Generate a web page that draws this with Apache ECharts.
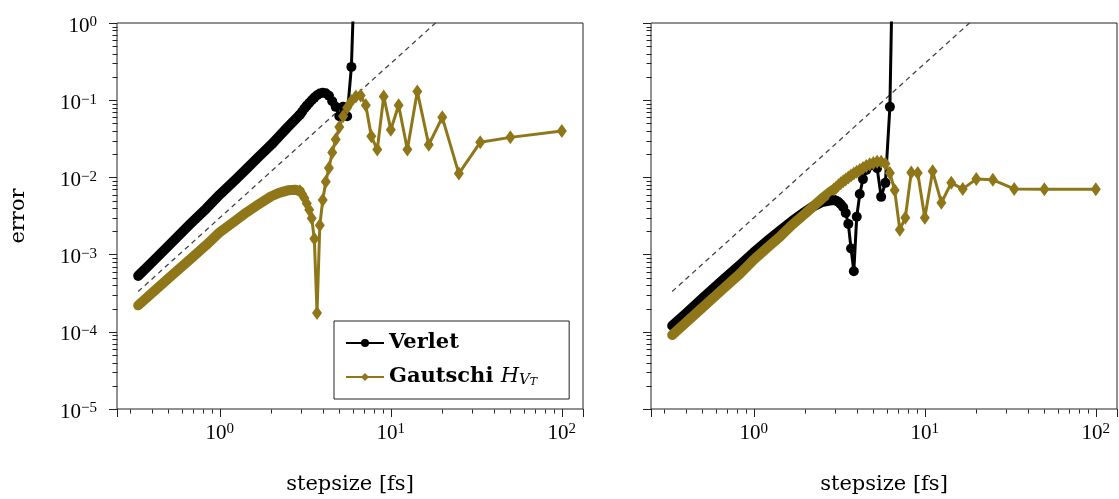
<!DOCTYPE html>
<html>
<head>
<meta charset="utf-8">
<script src="https://cdn.jsdelivr.net/npm/echarts@6.0.0/dist/echarts.min.js"></script>
<style>
  html, body { margin: 0; padding: 0; background: #fff; }
  #chart { width: 1119px; height: 499px; }
</style>
</head>
<body>
<div id="chart"></div>
<script>
// stepsizes [fs]; small steps are so dense that the markers merge into a band
const bandSteps = [0.3333, 0.4, 0.5, 0.6667, 0.8333, 1, 1.25, 1.4286, 1.6667, 2, 2.2222, 2.5, 2.7778, 2.9412];
const markSteps = [2.9412, 3.0303, 3.125, 3.2258, 3.3333, 3.4483, 3.5714, 3.7037, 3.8462, 4, 4.1667, 4.3478,
  4.5455, 4.7619, 5, 5.2632, 5.5556, 5.8824, 6.25, 6.6667, 7.1429, 7.6923, 8.3333, 9.0909, 10, 11.111,
  12.5, 14.286, 16.667, 20, 25, 33.333, 50, 100];

// left panel
const verletLeftBand = [5.3e-4, 7.9e-4, 1.29e-3, 2.45e-3, 3.95e-3, 6.0e-3, 9.6e-3, 0.0128, 0.018, 0.0265, 0.034, 0.045, 0.057, 0.065];
const verletLeftMark = [0.065, 0.071, 0.078, 0.085, 0.092, 0.100, 0.108, 0.116, 0.122, 0.125, 0.123, 0.114,
  0.097, 0.082, 0.062, 0.082, 0.062, 0.27, 16];
const gautschiLeftBand = [2.2e-4, 3.15e-4, 4.9e-4, 8.6e-4, 1.33e-3, 1.95e-3, 2.8e-3, 3.5e-3, 4.4e-3, 5.7e-3, 6.3e-3, 6.8e-3, 6.9e-3, 6.6e-3];
const gautschiLeftMark = [6.6e-3, 6.1e-3, 5.4e-3, 4.6e-3, 3.8e-3, 2.95e-3, 1.6e-3, 1.75e-4, 2.4e-3, 5.1e-3, 8.8e-3, 0.0132,
  0.021, 0.031, 0.045, 0.062, 0.08, 0.098, 0.112, 0.115, 0.086, 0.034, 0.0229, 0.112, 0.0415, 0.086,
  0.0229, 0.13, 0.0265, 0.06, 0.0112, 0.0285, 0.033, 0.04];

// right panel
const verletRightBand = [1.2e-4, 1.72e-4, 2.7e-4, 4.8e-4, 7.4e-4, 1.07e-3, 1.62e-3, 2.05e-3, 2.7e-3, 3.6e-3, 4.2e-3, 4.8e-3, 5.0e-3, 5.1e-3];
const verletRightMark = [5.1e-3, 5.0e-3, 4.8e-3, 4.5e-3, 4.1e-3, 3.45e-3, 2.5e-3, 1.2e-3, 6.1e-4, 3.1e-3, 6.1e-3, 9.5e-3,
  0.0125, 0.0142, 0.0148, 0.0132, 5.6e-3, 8.5e-3, 0.082, 200];
const gautschiRightBand = [9.1e-5, 1.31e-4, 2.05e-4, 3.65e-4, 5.7e-4, 8.6e-4, 1.33e-3, 1.72e-3, 2.4e-3, 3.4e-3, 4.2e-3, 5.3e-3, 6.4e-3, 7.0e-3];
const gautschiRightMark = [7.0e-3, 7.4e-3, 7.9e-3, 8.4e-3, 8.9e-3, 9.4e-3, 0.0100, 0.0106, 0.0112, 0.0118, 0.0125, 0.0132,
  0.0140, 0.0148, 0.0154, 0.0159, 0.0160, 0.0150, 0.0114, 6.8e-3, 2.1e-3, 3.0e-3, 0.0116, 0.0114, 3.0e-3, 0.012,
  4.7e-3, 8.5e-3, 7.1e-3, 9.5e-3, 9.3e-3, 7.1e-3, 7.0e-3, 7.0e-3];

// second order reference line
const refSteps = [0.3333, 100];
const refErr = [3.33e-4, 30];

// axis ranges and ticks
const X_MIN = 0.2506, X_MAX = 133;
const Y_MIN = 1e-5, Y_MAX = 1;
const xDecades = [-1, 0, 1, 2];
const yDecades = [-5, -4, -3, -2, -1];
const yLabelVals = [1e-5, 1e-4, 1e-3, 1e-2, 1e-1, 1];
const minorMult = [2, 3, 4, 5, 6, 7, 8, 9];

const GOLD = '#8f7719';
const SERIF = 'DejaVu Serif';
const TICKFONT = 'Liberation Serif';

const zip = (xs, ys) => ys.map((y, i) => [xs[i], y]);

const minorVals = (decades, lo, hi) => {
  const out = [];
  decades.forEach(d => minorMult.forEach(m => {
    const v = m * Math.pow(10, d);
    if (v > lo && v < hi) out.push(v);
  }));
  return out;
};
const xMinor = minorVals(xDecades, X_MIN, X_MAX);
const yMinor = minorVals(yDecades, Y_MIN, Y_MAX);

function powLabel(v) {
  const e = Math.log10(v);
  const r = Math.round(e);
  if (Math.abs(e - r) > 1e-6) return '';
  return '{m|10}{s|' + (r < 0 ? '\u2212' + (-r) : r) + '}';
}
const tickRich = {
  m: { fontFamily: TICKFONT, fontSize: 21, color: '#000', lineHeight: 22 },
  s: { fontFamily: TICKFONT, fontSize: 15, color: '#000', lineHeight: 8, verticalAlign: 'top' }
};

function xAxis(gi) {
  return {
    type: 'log', gridIndex: gi, min: X_MIN, max: X_MAX,
    axisLine: { show: false },
    axisTick: { show: true, length: 8, lineStyle: { color: '#222' } },
    splitLine: { show: false },
    axisLabel: { formatter: powLabel, rich: tickRich, margin: 13 },
    name: 'stepsize [fs]', nameLocation: 'middle', nameGap: 65,
    nameTextStyle: { fontFamily: SERIF, fontSize: 21, color: '#000' }
  };
}
function yAxis(gi, named) {
  const ax = {
    type: 'log', gridIndex: gi, min: Y_MIN, max: Y_MAX,
    axisLine: { show: false },
    axisTick: { show: true, length: 8, lineStyle: { color: '#222' } },
    splitLine: { show: false },
    axisLabel: { show: false }
  };
  if (named) {
    ax.name = 'error';
    ax.nameLocation = 'middle';
    ax.nameGap = 88;
    ax.nameMoveOverlap = false;
    ax.nameTextStyle = { fontFamily: SERIF, fontSize: 21, color: '#000' };
  }
  return ax;
}

// y tick labels placed through the axis scale
function yLabels(gi) {
  return {
    type: 'custom', xAxisIndex: gi, yAxisIndex: gi, silent: true, clip: false,
    data: yLabelVals.map(v => [X_MIN, v]),
    renderItem: (params, api) => {
      const p = api.coord([api.value(0), api.value(1)]);
      return {
        type: 'text', x: p[0] - 20, y: p[1] + 3,
        style: { text: powLabel(api.value(1)), rich: tickRich, align: 'right', verticalAlign: 'middle' }
      };
    }
  };
}

function minorTicks(gi, vals, dir) {
  return {
    type: 'custom', xAxisIndex: gi, yAxisIndex: gi, silent: true, clip: false,
    data: vals.map(v => dir === 'x' ? [v, Y_MIN] : [X_MIN, v]),
    renderItem: (params, api) => {
      const p = api.coord([api.value(0), api.value(1)]);
      const x = Math.round(p[0]) + 0.5, y = Math.round(p[1]) + 0.5;
      const shape = dir === 'x' ? { x1: x, y1: y, x2: x, y2: y + 4 } : { x1: x - 5, y1: y, x2: x, y2: y };
      return { type: 'line', shape: shape, style: { stroke: '#222', lineWidth: 1 } };
    }
  };
}

function refSeries(gi) {
  return {
    name: 'ref', type: 'line', xAxisIndex: gi, yAxisIndex: gi, silent: true,
    data: zip(refSteps, refErr), symbol: 'none',
    lineStyle: { color: '#444', width: 1.3, type: [5, 4] }
  };
}
function markSeries(gi, name, ys, color, symbol, size) {
  return {
    name: name, type: 'line', xAxisIndex: gi, yAxisIndex: gi, silent: true,
    data: zip(markSteps, ys), symbol: symbol, symbolSize: size, showSymbol: true,
    lineStyle: { color: color, width: 3 }, itemStyle: { color: color }
  };
}
function bandSeries(gi, name, ys, color, width) {
  return {
    name: name + ' band', type: 'line', xAxisIndex: gi, yAxisIndex: gi, silent: true,
    data: zip(bandSteps, ys), symbol: 'none', showSymbol: false,
    lineStyle: { color: color, width: width, cap: 'round', join: 'round' }
  };
}

const gridBase = {
  top: 23, width: 466, height: 386, show: true, borderColor: '#222', borderWidth: 1,
  backgroundColor: 'transparent', containLabel: false, outerBoundsMode: 'none'
};

const chart = echarts.init(document.getElementById('chart'));
chart.setOption({
  animation: false,
  backgroundColor: '#fff',
  grid: [
    Object.assign({ left: 117 }, gridBase),
    Object.assign({ left: 651 }, gridBase)
  ],
  xAxis: [xAxis(0), xAxis(1)],
  yAxis: [yAxis(0, true), yAxis(1, false)],
  legend: {
    data: ['Verlet', 'Gautschi'],
    orient: 'vertical', left: 334, top: 321,
    itemWidth: 38, itemHeight: 10, itemGap: 12,
    padding: [11, 32, 11, 11],
    borderColor: '#222', borderWidth: 1, borderRadius: 0, backgroundColor: '#fff',
    selectedMode: false,
    formatter: name => name === 'Verlet' ? '{b|Verlet}' : '{b|Gautschi }{it|H}{s1|V}{s2|T}',
    textStyle: {
      lineHeight: 22,
      rich: {
        b: { fontFamily: SERIF, fontWeight: 'bold', fontSize: 21, lineHeight: 22, color: '#000' },
        it: { fontFamily: SERIF, fontStyle: 'italic', fontSize: 21, lineHeight: 22, color: '#000' },
        s1: { fontFamily: SERIF, fontStyle: 'italic', fontSize: 15, lineHeight: 14, verticalAlign: 'bottom', color: '#000' },
        s2: { fontFamily: SERIF, fontStyle: 'italic', fontSize: 11, lineHeight: 8, verticalAlign: 'bottom', color: '#000' }
      }
    }
  },
  series: [
    minorTicks(0, xMinor, 'x'), minorTicks(0, yMinor, 'y'),
    minorTicks(1, xMinor, 'x'), minorTicks(1, yMinor, 'y'),
    yLabels(0),
    refSeries(0), refSeries(1),
    markSeries(0, 'Verlet', verletLeftMark, '#000', 'circle', 10),
    bandSeries(0, 'Verlet', verletLeftBand, '#000', 10),
    markSeries(0, 'Gautschi', gautschiLeftMark, GOLD, 'diamond', [10, 14]),
    bandSeries(0, 'Gautschi', gautschiLeftBand, GOLD, 10),
    markSeries(1, 'Verlet', verletRightMark, '#000', 'circle', 10),
    bandSeries(1, 'Verlet', verletRightBand, '#000', 10),
    markSeries(1, 'Gautschi', gautschiRightMark, GOLD, 'diamond', [10, 14]),
    bandSeries(1, 'Gautschi', gautschiRightBand, GOLD, 10)
  ]
});
</script>
</body>
</html>
